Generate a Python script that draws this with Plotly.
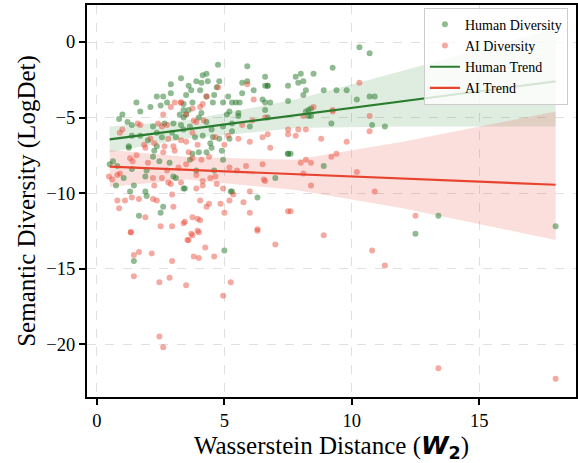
import plotly.graph_objects as go

# ── Data ──────────────────────────────────────────────────────────────────────

human_x = [10.3, 10.7, 9.25, 8.5, 8.0, 7.8, 8.1, 7.9, 8.2, 8.1, 8.9, 9.4, 9.8, 10.7, 10.9, 10.2,
           8.4, 8.2, 8.4, 9.2, 10.8, 11.3, 8.9, 13.4, 18.0, 12.5, 7.6, 6.7, 6.6, 7.5, 6.8,
           6.6, 7.5, 6.6, 8.3, 8.3, 7.5, 7.0,
           3.3, 2.9, 2.9, 2.35, 2.6, 2.75, 1.55, 2.5, 1.7, 1.0, 0.87, 1.37, 2.2, 2.65, 3.0,
           3.25, 2.35, 1.37, 1.7, 1.25, 2.0, 2.55, 2.95, 2.35, 3.1,
           4.75, 5.9, 4.3, 4.15, 3.9, 4.35, 4.1, 4.8, 5.7, 5.9, 6.7, 3.7, 4.05, 4.7, 3.5,
           4.3, 4.6, 5.15, 5.7, 6.15, 3.75, 3.4, 4.55, 4.95, 5.3, 5.45, 5.6, 6.5, 3.4, 3.6,
           4.1, 5.2, 5.55, 3.4, 5.1, 5.3, 4.55, 4.8, 4.45, 3.5,
           3.3, 3.65, 4.3, 4.5, 4.95, 5.3, 5.55, 6.0, 6.7, 5.2, 3.4, 3.85, 4.15,
           1.25, 0.63, 0.8, 0.5, 1.37, 1.95, 2.2, 2.45, 2.85, 1.05, 1.9, 3.0, 3.1, 0.75,
           1.45, 1.3, 1.9, 1.95, 2.6, 2.5, 1.65, 3.4, 2.25,
           3.75, 4.0, 4.3, 4.9, 3.65, 3.9, 4.6, 3.45, 5.25, 6.3, 4.95, 4.5,
           1.45, 5.0, 7.5, 5.3, 6.6, 3.6, 4.0, 2.1, 1.2]
human_y = [-0.35, -0.75, -1.7, -2.1, -2.1, -2.3, -2.6, -2.7, -3.2, -3.5, -3.2, -3.2, -3.2, -3.6, -3.6, -3.8,
           -4.4, -4.6, -4.9, -5.4, -5.5, -5.6, -8.2, -11.5, -12.2, -12.7, -7.4, -2.9, -2.9, -2.9, -4.0,
           -4.0, -3.9, -4.5, -4.5, -4.9, -7.4, -9.0,
           -2.4, -2.8, -3.4, -3.6, -3.6, -4.0, -4.0, -4.2, -4.6, -4.8, -5.1, -5.5, -5.6, -5.4, -5.4,
           -4.8, -6.0, -6.2, -6.2, -6.9, -6.5, -6.3, -6.0, -6.9, -6.3,
           -1.5, -1.6, -2.1, -2.2, -2.6, -2.6, -2.7, -2.6, -2.7, -2.6, -2.9, -3.2, -3.2, -3.0, -3.5,
           -3.6, -3.5, -3.6, -3.4, -3.2, -4.0, -4.1, -4.0, -4.0, -4.0, -4.0, -4.0, -3.8, -4.5, -4.5,
           -4.7, -4.6, -4.7, -5.0, -4.8, -5.9, -6.3, -6.4, -6.7, -4.8,
           -5.5, -5.6, -5.3, -5.8, -5.6, -5.4, -4.9, -5.6, -5.0, -6.4, -5.8, -6.3, -6.2,
           -7.0, -7.9, -8.2, -8.1, -8.4, -8.5, -7.6, -7.9, -8.0, -9.0, -8.9, -8.9, -9.0, -9.5,
           -9.5, -9.9, -9.9, -10.2, -10.9, -11.3, -11.5, -9.7, -7.2,
           -7.4, -7.3, -7.3, -7.2, -7.8, -8.5, -8.5, -9.7, -9.9, -10.3, -7.8, -7.0,
           -14.5, -13.8, -7.4, -9.9, -2.3, -2.9, -5.0, -4.3, -5.3]

ai_x = [10.3, 10.7, 10.7, 9.8, 9.25, 8.5, 8.1, 7.9, 8.2, 7.8, 8.8, 9.4, 9.2, 8.0, 8.2, 8.4,
        8.1, 10.2, 8.4, 10.9, 12.5, 8.9, 7.6, 10.8, 11.3, 13.4, 18.0, 6.8, 6.7, 7.5, 7.5,
        9.25, 6.6, 6.6, 7.5, 7.0,
        1.33, 1.45, 1.65, 1.45, 2.15, 2.45, 2.85, 2.95, 3.6, 3.75, 4.0, 3.8, 4.0, 4.25,
        4.6, 3.5, 4.95, 5.25, 2.45, 2.6, 6.3,
        1.9, 2.6, 3.05, 1.3, 1.55, 1.4, 2.75, 0.47, 0.6, 0.9, 0.8, 2.2, 2.25, 2.55, 2.8,
        2.9, 3.3, 0.8, 1.1, 0.87, 1.37, 1.65, 2.2, 2.35, 3.0, 2.95, 1.9, 2.5, 2.95, 1.33, 3.4,
        3.75, 4.1, 3.5, 3.9, 4.15, 4.15, 3.9, 4.45, 4.7, 4.65, 4.95, 5.2, 5.5, 5.85, 6.5,
        6.55, 6.0, 5.35, 5.2, 5.75, 4.05, 4.4, 4.3, 4.85, 5.0, 6.0, 3.75, 3.95, 4.05,
        3.45, 3.95, 3.7, 3.55, 6.3,
        3.3, 2.9, 3.05, 2.6, 1.6, 1.7, 2.4, 2.55, 2.75, 0.9, 1.0, 1.85, 2.1, 2.25, 2.8,
        3.0, 2.65,
        5.9, 4.75, 6.15, 3.3, 3.75, 4.05, 4.15, 3.8, 3.9, 4.2, 3.5, 5.7, 6.1, 5.15, 4.65,
        3.75, 3.3, 3.5, 3.95, 5.0, 5.55, 6.0, 6.5, 4.3, 3.6, 2.0, 3.2, 4.4]
ai_y = [-2.7, -4.9, -5.9, -6.6, -4.5, -4.3, -4.9, -5.8, -5.8, -6.2, -6.4, -7.4, -7.6, -8.0, -7.8, -8.0,
        -8.7, -8.6, -9.5, -9.9, -11.5, -12.8, -11.2, -13.8, -14.8, -21.6, -22.3, -7.0, -6.1, -6.1, -5.8,
        -4.6, -5.0, -9.2, -11.2, -13.4,
        -12.6, -14.1, -13.9, -15.5, -14.0, -15.9, -15.6, -14.5, -13.1, -12.8, -12.6, -14.2, -14.3, -13.6,
        -14.2, -16.1, -16.8, -15.9, -19.5, -20.2, -12.5,
        -7.0, -7.3, -7.2, -7.7, -7.5, -7.9, -8.5, -8.9, -9.1, -8.7, -8.8, -9.0, -9.5, -9.0, -9.3,
        -9.4, -9.3, -10.5, -10.5, -11.0, -10.3, -10.4, -10.4, -10.5, -10.9, -10.1, -11.6, -12.2, -12.2, -12.6, -12.0,
        -7.7, -7.8, -8.1, -8.8, -9.2, -9.5, -9.7, -9.0, -9.4, -8.9, -9.7, -8.3, -8.5, -8.2, -8.1,
        -9.1, -9.9, -10.1, -10.5, -10.6, -10.5, -10.7, -10.9, -10.7, -11.3, -11.3, -11.6, -11.7, -11.8,
        -11.9, -12.5, -12.7, -13.1, -12.4,
        -4.0, -4.3, -4.0, -4.8, -5.4, -5.5, -5.4, -5.6, -5.5, -6.0, -5.8, -6.8, -6.4, -6.7, -6.4,
        -6.9, -6.9,
        -2.8, -3.0, -3.8, -4.0, -4.4, -4.3, -4.1, -5.2, -5.3, -5.2, -4.8, -5.5, -5.2, -6.2, -6.3,
        -6.0, -6.5, -6.6, -6.8, -6.8, -6.4, -6.6, -6.3, -3.6, -7.3, -8.0, -8.3, -7.6]

# regression lines + confidence bands
trend_x = [0.5, 18.0]
human_trend = [-6.45, -2.6]
ai_trend = [-8.25, -9.45]

band_x = [0.5, 3.5, 7.8, 12.0, 18.0]
human_upper = [-5.6, -5.2, -3.8, -1.9, 0.9]
human_lower = [-7.3, -6.4, -5.7, -5.6, -5.6]
ai_upper = [-7.15, -7.6, -7.8, -6.6, -4.6]
ai_lower = [-9.6, -9.1, -9.8, -11.0, -13.1]

GREEN = "#2a7d2e"
RED = "#e8432e"
SERIF = "Liberation Serif"

# ── Figure ────────────────────────────────────────────────────────────────────

fig = go.Figure()

fig.add_trace(go.Scatter(
    x=band_x + band_x[::-1], y=human_upper + human_lower[::-1],
    fill="toself", fillcolor="rgba(42,125,46,0.15)", line=dict(width=0),
    mode="lines", showlegend=False, hoverinfo="skip",
))
fig.add_trace(go.Scatter(
    x=band_x + band_x[::-1], y=ai_upper + ai_lower[::-1],
    fill="toself", fillcolor="rgba(232,67,46,0.17)", line=dict(width=0),
    mode="lines", showlegend=False, hoverinfo="skip",
))

fig.add_trace(go.Scatter(
    x=human_x, y=human_y, mode="markers", name="Human Diversity",
    marker=dict(color="rgba(42,125,46,0.52)", size=6, line=dict(width=0)),
))
fig.add_trace(go.Scatter(
    x=ai_x, y=ai_y, mode="markers", name="AI Diversity",
    marker=dict(color="rgba(232,67,46,0.45)", size=6, line=dict(width=0)),
))

fig.add_trace(go.Scatter(
    x=trend_x, y=human_trend, mode="lines", name="Human Trend",
    line=dict(color=GREEN, width=2.2),
))
fig.add_trace(go.Scatter(
    x=trend_x, y=ai_trend, mode="lines", name="AI Trend",
    line=dict(color=RED, width=2.2),
))

axis_style = dict(
    showline=True, linecolor="black", linewidth=2, mirror=True,
    ticks="outside", ticklen=6, tickwidth=2, tickcolor="black",
    showgrid=True, gridcolor="rgba(0,0,0,0.12)", griddash="dash", gridwidth=1,
    zeroline=False, automargin=False,
    tickfont=dict(family=SERIF, size=18.5, color="black"),
)

fig.update_xaxes(
    range=[-0.39, 18.8], tickvals=[0, 5, 10, 15],
    title=dict(
        text='Wasserstein Distance (<span style="font-family:DejaVu Sans"><b><i>W</i><sub>2</sub></b></span>)',
        font=dict(family=SERIF, size=25, color="black"), standoff=5,
    ),
    **axis_style,
)
fig.update_yaxes(
    range=[-23.5, 2.45], tickvals=[0, -5, -10, -15, -20],
    title=dict(text="Semantic Diversity (LogDet)",
               font=dict(family=SERIF, size=25, color="black"), standoff=4),
    **axis_style,
)

fig.update_layout(
    width=578, height=463,
    margin=dict(l=87, r=2, t=5, b=66),
    plot_bgcolor="white", paper_bgcolor="white",
    font=dict(family=SERIF, color="black"),
    legend=dict(
        x=0.689, y=0.993, xanchor="left", yanchor="top",
        bgcolor="rgba(255,255,255,0.8)", bordercolor="#cccccc", borderwidth=1,
        font=dict(family=SERIF, size=14, color="black"),
        tracegroupgap=0, itemwidth=30,
    ),
)

fig.write_html("out.html", config={"displayModeBar": False},
               post_script="document.body.style.margin='0';")
